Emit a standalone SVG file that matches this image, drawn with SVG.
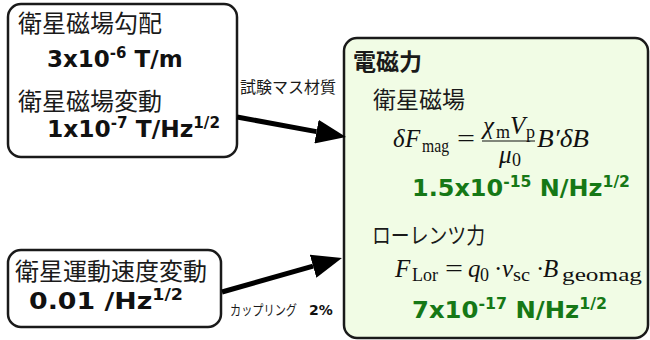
<svg xmlns="http://www.w3.org/2000/svg" width="650" height="340" viewBox="0 0 650 340">
<style>
.box{fill:#ffffff;stroke:#1a1a1a;stroke-width:2.5}
.box3{fill:#f1fce5;stroke:#1a1a1a;stroke-width:2.5}
.jp{font-family:"Noto Sans CJK JP","Noto Sans",sans-serif;fill:#1a1a1a}
.val{font-family:"DejaVu Sans",Verdana,sans-serif;font-weight:bold;font-size:23px;fill:#111}
.grn{fill:#167816}
.sup{font-size:15px}
.m{font-family:"Liberation Serif","DejaVu Serif",serif;fill:#111;font-size:25px}
.i{font-style:italic}
.s{font-size:18px}
.arr{stroke:#000;stroke-width:5;fill:none}
</style>
<defs>
<marker id="ah" viewBox="0 0 30 24" refX="0" refY="12" markerWidth="30" markerHeight="24" markerUnits="userSpaceOnUse" orient="auto">
<path d="M0,0 L30,12 L0,24 z" fill="#000"/>
</marker>
</defs>
<rect width="650" height="340" fill="#ffffff"/>

<g id="satellite-field">
<rect class="box" x="8" y="4" width="229" height="153" rx="13"/>
<text class="jp" x="18" y="32" font-size="24">衛星磁場勾配</text>
<text class="val" x="47" y="67">3x10<tspan class="sup" dy="-9">-6</tspan><tspan dy="9"> T/m</tspan></text>
<text class="jp" x="18" y="110" font-size="24">衛星磁場変動</text>
<text class="val" x="47" y="137" textLength="173" lengthAdjust="spacingAndGlyphs">1x10<tspan class="sup" dy="-9">-7</tspan><tspan dy="9"> T/Hz</tspan><tspan class="sup" dy="-9">1/2</tspan></text>
</g>

<g id="satellite-motion">
<rect class="box" x="8" y="250" width="213" height="77" rx="13"/>
<text class="jp" x="15" y="280" font-size="24">衛星運動速度変動</text>
<text class="val" x="29" y="309" font-size="24" textLength="154" lengthAdjust="spacingAndGlyphs">0.01 /Hz<tspan class="sup" dy="-9">1/2</tspan></text>
</g>

<g id="em-force">
<rect class="box3" x="344" y="38" width="304" height="300" rx="13"/>
<text class="jp" x="353" y="70" font-size="23" font-weight="bold">電磁力</text>
<text class="jp" x="373" y="108" font-size="23">衛星磁場</text>
<g id="formula-mag">
<text class="m i" x="393" y="147">δ</text>
<text class="m i" x="405" y="147">F</text>
<text class="m s" x="422" y="152" textLength="27" lengthAdjust="spacingAndGlyphs">mag</text>
<text class="m" x="457" y="147" textLength="18" lengthAdjust="spacingAndGlyphs">=</text>
<text class="m i" x="483" y="134">χ</text>
<text class="m s" x="496" y="138">m</text>
<text class="m i" x="510" y="134">V</text>
<text class="m s" x="526" y="138">p</text>
<line x1="482" y1="141" x2="535" y2="141" stroke="#111" stroke-width="1.2"/>
<text class="m i" x="499" y="163">μ</text>
<text class="m s" x="512" y="166">0</text>
<text class="m i" x="537" y="147" textLength="52" lengthAdjust="spacingAndGlyphs">B′δB</text>
</g>
<text class="val grn" x="412" y="196" textLength="218" lengthAdjust="spacingAndGlyphs">1.5x10<tspan class="sup" dy="-9">-15</tspan><tspan dy="9"> N/Hz</tspan><tspan class="sup" dy="-9">1/2</tspan></text>
<text class="jp" x="372" y="243" font-size="22" textLength="113" lengthAdjust="spacingAndGlyphs">ローレンツ力</text>
<g id="formula-lor">
<text class="m i" x="395" y="277">F</text>
<text class="m s" x="412" y="281" textLength="26" lengthAdjust="spacingAndGlyphs">Lor</text>
<text class="m" x="445" y="277" textLength="18" lengthAdjust="spacingAndGlyphs">=</text>
<text class="m i" x="468" y="277">q</text>
<text class="m s" x="480" y="281">0</text>
<text class="m" x="494" y="277">·</text>
<text class="m i" x="502" y="277">v</text>
<text class="m s" x="513" y="281" textLength="17" lengthAdjust="spacingAndGlyphs">sc</text>
<text class="m" x="536" y="277">·</text>
<text class="m i" x="543" y="277">B</text>
<text class="m s" x="562" y="281" textLength="80" lengthAdjust="spacingAndGlyphs">geomag</text>
</g>
<text class="val grn" x="412" y="318" textLength="195" lengthAdjust="spacingAndGlyphs">7x10<tspan class="sup" dy="-9">-17</tspan><tspan dy="9"> N/Hz</tspan><tspan class="sup" dy="-9">1/2</tspan></text>
</g>

<g id="connectors">
<line class="arr" x1="237" y1="117" x2="316.5" y2="131.6" marker-end="url(#ah)"/>
<line class="arr" x1="222" y1="292" x2="313.1" y2="266.2" marker-end="url(#ah)"/>
<text class="jp" x="240" y="93" font-size="16">試験マス材質</text>
<text class="jp" x="230" y="315" font-size="14" textLength="67" lengthAdjust="spacingAndGlyphs">カップリング</text>
<text x="309" y="315" font-family="DejaVu Sans,Verdana,sans-serif" font-weight="bold" font-size="14" fill="#111">2%</text>
</g>
</svg>
